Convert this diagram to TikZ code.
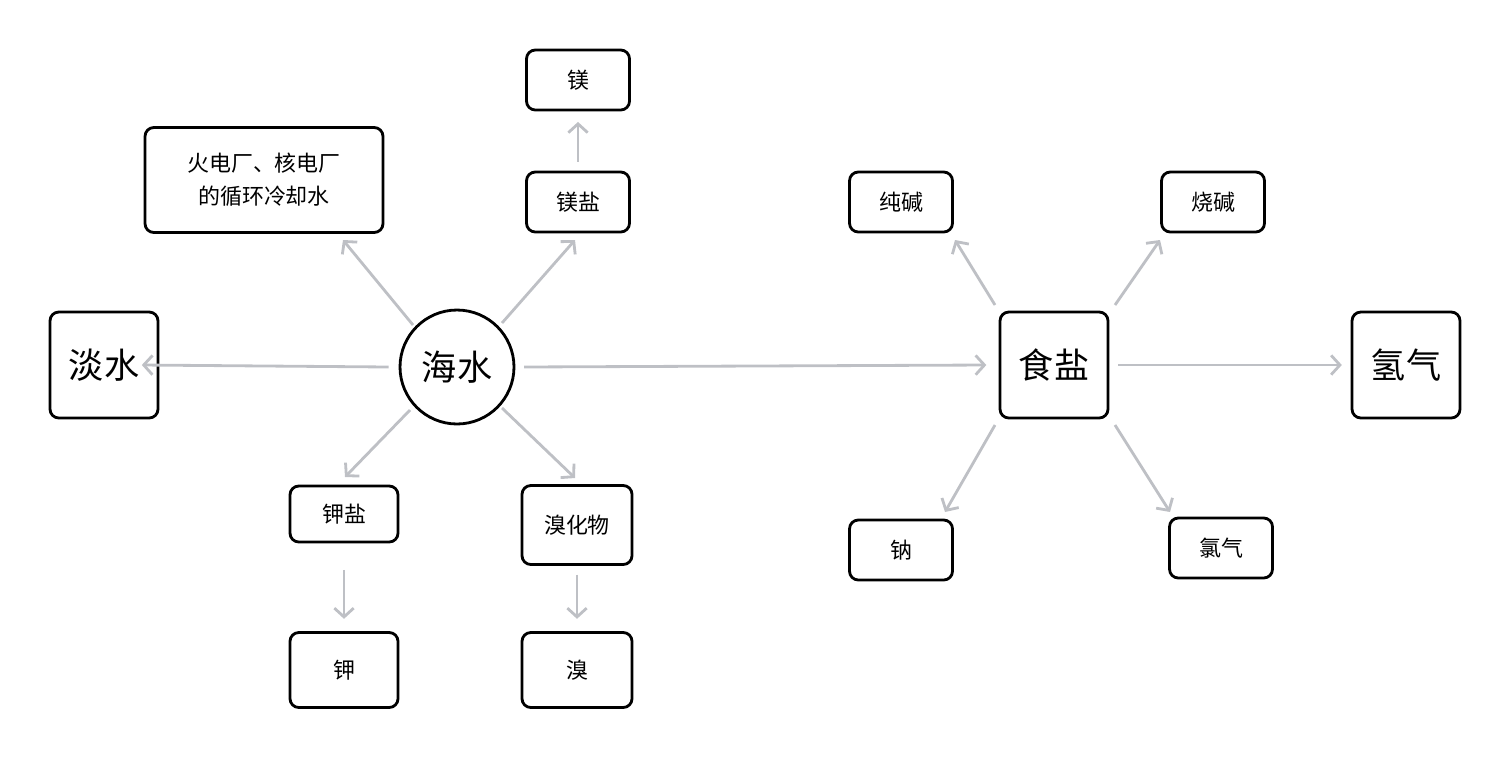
\documentclass[tikz,border=0pt]{standalone}
\usepackage{fontspec}
\setmainfont{Noto Sans CJK SC}
\usetikzlibrary{arrows.meta}
\definecolor{arr}{RGB}{190,192,197}
\begin{document}
\begin{tikzpicture}[x=0.02cm,y=-0.02cm,
 box/.style={draw=black,line width=1.6pt,rounded corners=5pt,inner sep=0pt,align=center,font=\fontsize{12.5}{19}\selectfont},
 big/.style={box,minimum width=2.16cm,minimum height=2.12cm,font=\fontsize{20}{24}\selectfont},
 sm/.style={box,minimum width=2.06cm,minimum height=1.2cm},
 arw/.style={draw=arr,line width=1.6pt,-{Straight Barb[length=5pt,width=11pt,line width=1.6pt]}}]
\useasboundingbox (0,0) rectangle (1510,758);
\node[circle,draw,line width=1.6pt,minimum size=2.28cm,inner sep=0pt,font=\fontsize{20}{24}\selectfont] (hs) at (457,367) {海水};
\node[big] (ds) at (104,365) {淡水};
\node[box,minimum width=4.76cm,minimum height=2.1cm] (hd) at (264,180) {火电厂、核电厂\\的循环冷却水};
\node[sm] (mg) at (578,80) {镁};
\node[sm] (mgy) at (578,202) {镁盐};
\node[box,minimum width=2.16cm,minimum height=1.12cm] (ky) at (344,514) {钾盐};
\node[box,minimum width=2.16cm,minimum height=1.5cm] (k) at (344,670) {钾};
\node[box,minimum width=2.2cm,minimum height=1.58cm] (xh) at (577,525) {溴化物};
\node[box,minimum width=2.2cm,minimum height=1.5cm] (x) at (577,670) {溴};
\node[big] (sy) at (1054,365) {食盐};
\node[big] (qq) at (1406,365) {氢气};
\node[sm] (cj) at (901,202) {纯碱};
\node[sm] (sj) at (1213,202) {烧碱};
\node[sm] (na) at (901,550) {钠};
\node[sm] (lq) at (1221,548) {氯气};
% tips
\coordinate (t1) at (343,240);
\coordinate (t2) at (575,240);
\coordinate (t3) at (345,477);
\coordinate (t4) at (575,478);
\coordinate (t5) at (955,240);
\coordinate (t6) at (1160,240);
\coordinate (t7) at (945,512);
\coordinate (t8) at (1170,512);
\coordinate (s1) at (413,325);
\coordinate (s2) at (502,323);
\coordinate (s3) at (410,410);
\coordinate (s4) at (502,408);
\coordinate (s5) at (995,305);
\coordinate (s6) at (1115,305);
\coordinate (s7) at (995,425);
\coordinate (s8) at (1115,425);
\draw[arw] (hs.west) ++(-10,0) -- ([xshift=-10pt]ds.east);
\draw[arw] ([xshift=5pt]hs.east) -- ([xshift=-7pt]sy.west);
\draw[arw] ([xshift=5pt]sy.east) -- ([xshift=-5pt]qq.west);
\draw[arw] (s1) -- (t1);
\draw[arw] (s2) -- (t2);
\draw[arw] (s3) -- (t3);
\draw[arw] (s4) -- (t4);
\draw[arw] (s5) -- (t5);
\draw[arw] (s6) -- (t6);
\draw[arw] (s7) -- (t7);
\draw[arw] (s8) -- (t8);
\draw[arw] ([yshift=5pt]mgy.north) -- ([yshift=-6pt]mg.south);
\draw[arw] ([yshift=-15pt]ky.south) -- ([yshift=7pt]k.north);
\draw[arw] ([yshift=-5pt]xh.south) -- ([yshift=7pt]x.north);
\end{tikzpicture}
\end{document}
